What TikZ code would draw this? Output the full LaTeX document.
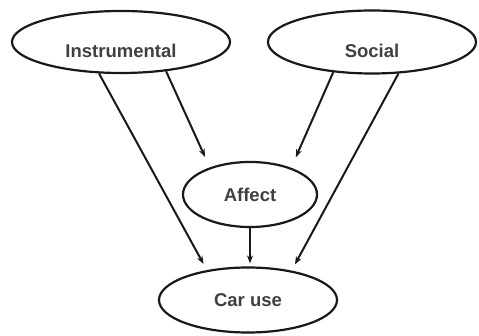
\documentclass[tikz,border=0pt]{standalone}
\usepackage{fontspec}
\setmainfont{Liberation Sans}
\usetikzlibrary{shapes.geometric,arrows.meta}

\begin{document}
\begin{tikzpicture}[x=1pt,y=-1pt,
		oval/.style={ellipse,draw=black!90,line width=2.2pt,inner sep=0pt,
			font=\bfseries\fontsize{18.5}{20}\selectfont,text=black!75},
		toptext/.style={text height=32pt,text depth=0pt},
		arr/.style={draw=black!90,line width=2pt,-{Stealth[length=8pt,width=6pt]}}]
			\useasboundingbox (0,0) rectangle (479,336);

			\node[oval,toptext,minimum width=218pt,minimum height=62pt] (instr) at (121,42) {Instrumental};
			\node[oval,toptext,minimum width=208pt,minimum height=63pt] (social) at (372,42) {Social};
			\node[oval,minimum width=134pt,minimum height=65pt] (affect) at (250,194.5) {Affect};
			\node[oval,minimum width=178pt,minimum height=65pt] (car) at (248,300) {Car use};

			\draw[arr,shorten >=7pt] (instr.235.4) -- (car.144.6);
			\draw[arr,shorten >=11.5pt] (instr.327) -- (affect.146.8);
			\draw[arr,shorten >=11.5pt] (social.218.5) -- (affect.33.2);
			\draw[arr,shorten >=7pt] (social.310.4) -- (car.34);
			\draw[arr,shorten >=3pt] (affect.south) -- (affect.south |- car.north);
		\end{tikzpicture}
\end{document}
